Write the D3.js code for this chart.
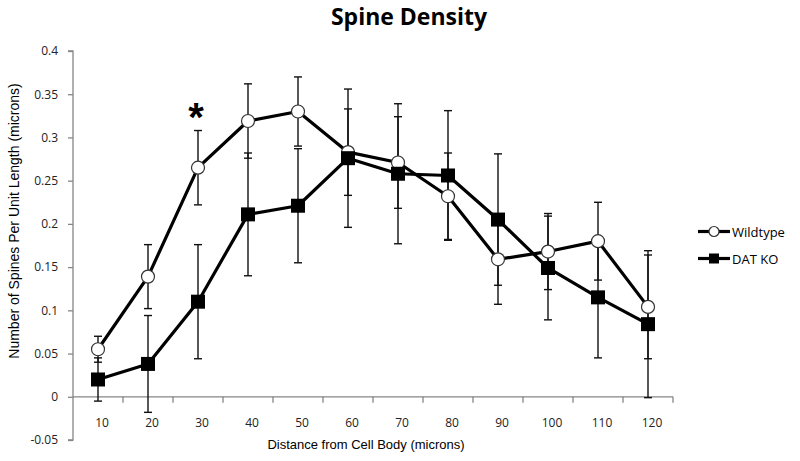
<html>
<head>
<meta charset="utf-8">
<script src='https://d3js.org/d3.v7.min.js'></script>
<style>
  body { margin: 0; background: white; }
  text { font-family: "Open Sans", sans-serif; }
</style>
</head>
<body>
<svg width=800 height=461></svg>
<script>
// distance bins (microns)
var distances = ["10", "20", "30", "40", "50", "60", "70", "80", "90", "100", "110", "120"];

var wildtype    = [0.055, 0.139, 0.265, 0.319, 0.330, 0.283, 0.271, 0.232, 0.159, 0.168, 0.180, 0.104];
var wildtypeErr = [0.015, 0.037, 0.043, 0.043, 0.040, 0.050, 0.053, 0.050, 0.052, 0.044, 0.045, 0.060];

var datko    = [0.020, 0.038, 0.110, 0.211, 0.221, 0.276, 0.258, 0.256, 0.205, 0.149, 0.115, 0.084];
var datkoErr = [0.025, 0.056, 0.066, 0.071, 0.066, 0.080, 0.081, 0.075, 0.076, 0.060, 0.070, 0.085];

var yTicks = [-0.05, 0, 0.05, 0.1, 0.15, 0.2, 0.25, 0.3, 0.35, 0.4];

var svg = d3.select("svg");

var x = d3.scaleBand()
  .domain(distances)
  .range([73, 673]);

var y = d3.scaleLinear()
  .domain([-0.05, 0.4])
  .range([440, 51]);

// title
svg.append("text")
  .attr("x", 409)
  .attr("y", 25)
  .style("text-anchor", "middle")
  .style("font-family", "Open Sans")
  .style("font-weight", "bold")
  .style("font-size", "23px")
  .text("Spine Density");

// y axis
var yAxis = svg.append("g")
  .attr("transform", "translate(73,0)")
  .call(d3.axisLeft(y).tickValues(yTicks).tickSize(5).tickPadding(10)
    .tickFormat(function(d) { return d3.format("~g")(d).replace("\u2212", "-"); }));
yAxis.select(".domain").attr("stroke", "#868686").attr("stroke-width", 1.3)
  .attr("d", "M-5," + y(0.4) + "H0V" + y(-0.05) + "H-5");
yAxis.selectAll(".tick line").attr("stroke", "#868686").attr("stroke-width", 1.3);
yAxis.selectAll(".tick text").style("font-family", "Open Sans").style("font-size", "12px").attr("fill", "#222");

// x axis sits on zero
var xAxis = svg.append("g")
  .attr("transform", "translate(0," + y(0) + ")")
  .call(d3.axisBottom(x).tickSize(0).tickPadding(22));
xAxis.select(".domain").attr("stroke", "#868686").attr("stroke-width", 1.3)
  .attr("d", "M73,0H673");
xAxis.selectAll(".tick text").attr("dx", 4).style("font-family", "Open Sans").style("font-size", "12px").attr("fill", "#222");

// tick marks between categories
var bounds = distances.map(function(d) { return x(d); }).concat([x.range()[1]]);
xAxis.selectAll(".bound")
  .data(bounds.slice(1))
  .enter()
  .append("line")
  .attr("x1", function(d) { return d; })
  .attr("x2", function(d) { return d; })
  .attr("y1", 0)
  .attr("y2", 6)
  .attr("stroke", "#868686")
  .attr("stroke-width", 1.3);

// axis titles
svg.append("text")
  .attr("x", 366)
  .attr("y", 449)
  .style("text-anchor", "middle")
  .style("font-family", "Liberation Sans")
  .style("font-size", "13px")
  .text("Distance from Cell Body (microns)");

svg.append("text")
  .attr("transform", "translate(19,221) rotate(-90)")
  .style("text-anchor", "middle")
  .style("font-family", "Liberation Sans")
  .style("font-size", "14px")
  .text("Number of Spines Per Unit Length (microns)");

var cx = function(i) { return x(distances[i]) + x.bandwidth() / 2; };

var series = [
  {name: "Wildtype", values: wildtype, err: wildtypeErr, marker: "circle"},
  {name: "DAT KO", values: datko, err: datkoErr, marker: "square"}
];

// error bars
series.forEach(function(s) {
  var g = svg.append("g").attr("stroke", "#111").attr("stroke-width", 1.4);
  s.values.forEach(function(v, i) {
    var hi = y(v + s.err[i]), lo = y(v - s.err[i]);
    g.append("line").attr("x1", cx(i)).attr("x2", cx(i)).attr("y1", hi).attr("y2", lo);
    g.append("line").attr("x1", cx(i) - 4).attr("x2", cx(i) + 4).attr("y1", hi).attr("y2", hi);
    g.append("line").attr("x1", cx(i) - 4).attr("x2", cx(i) + 4).attr("y1", lo).attr("y2", lo);
  });
});

var line = d3.line()
  .x(function(d, i) { return cx(i); })
  .y(function(d) { return y(d); });

series.forEach(function(s) {
  svg.append("path")
    .datum(s.values)
    .attr("d", line)
    .attr("fill", "none")
    .attr("stroke", "black")
    .attr("stroke-width", 3.2)
    .attr("stroke-linejoin", "round");
});

function drawMarker(g, type, px, py, size) {
  if (type == "circle") {
    g.append("circle")
      .attr("cx", px).attr("cy", py).attr("r", size / 2)
      .attr("fill", "white").attr("stroke", "#333").attr("stroke-width", 1.2);
  } else {
    g.append("rect")
      .attr("x", px - size / 2).attr("y", py - size / 2).attr("width", size).attr("height", size)
      .attr("fill", "black");
  }
}

series.forEach(function(s) {
  var g = svg.append("g");
  s.values.forEach(function(v, i) {
    drawMarker(g, s.marker, cx(i), y(v), s.marker == "circle" ? 13 : 14);
  });
});

// significance marker
svg.append("text")
  .attr("x", cx(2) - 2)
  .attr("y", 131)
  .style("text-anchor", "middle")
  .style("font-family", "Liberation Sans")
  .style("font-weight", "bold")
  .style("font-size", "40px")
  .text("*");

// legend
var legend = svg.append("g");
series.forEach(function(s, i) {
  var ly = 231.5 + i * 27;
  legend.append("line")
    .attr("x1", 698).attr("x2", 730).attr("y1", ly).attr("y2", ly)
    .attr("stroke", "black").attr("stroke-width", 3.2);
  drawMarker(legend, s.marker, 714, ly, 10);
  legend.append("text")
    .attr("x", 732)
    .attr("y", ly + 5)
    .style("font-family", "Open Sans")
    .style("font-size", "13px")
    .text(s.name);
});
</script>
</body>
</html>
